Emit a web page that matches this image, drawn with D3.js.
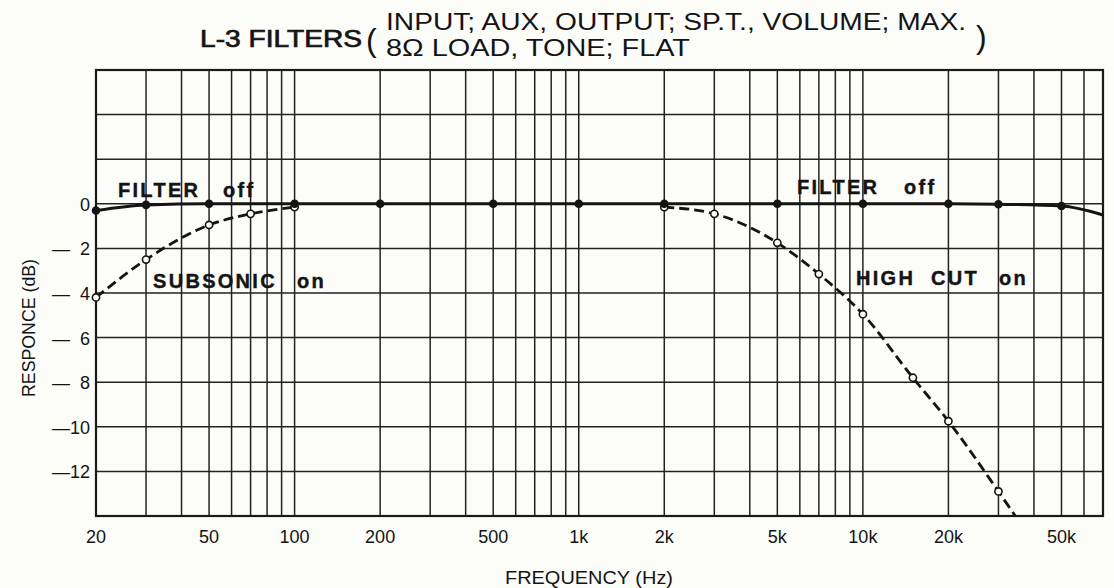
<!DOCTYPE html>
<html><head><meta charset="utf-8">
<script src="https://cdn.jsdelivr.net/npm/d3@7"></script>
<style>
html,body{margin:0;padding:0;background:#fcfcf9;}
svg{display:block;font-family:"Liberation Sans",Arial,Helvetica,sans-serif;}
</style>
</head><body>
<svg id="chart" width="1114" height="588"></svg>
<script>
// ---- data ----
const offFreq   = [20, 30, 50, 100, 200, 500, 1000, 2000, 5000, 10000, 20000, 30000, 50000, 70000];
const offDb     = [0.3, 0.05, 0, 0, 0, 0, 0, 0, 0, 0, 0, 0.02, 0.1, 0.5];
const offMarked = [1,1,1,1,1,1,1,1,1,1,1,1,1,0];

const subFreq   = [20, 30, 50, 70, 100];
const subDb     = [4.2, 2.5, 0.95, 0.45, 0.15];
const subMarked = [1,1,1,1,1];

const hcFreq    = [2000, 3000, 5000, 7000, 10000, 15000, 20000, 30000, 34400];
const hcDb      = [0.15, 0.45, 1.75, 3.15, 4.95, 7.8, 9.75, 12.9, 14.0];
const hcMarked  = [1,1,1,1,1,1,1,1,0];

const xTickVals   = [20, 50, 100, 200, 500, 1000, 2000, 5000, 10000, 20000, 50000];
const xTickLabels = ["20","50","100","200","500","1k","2k","5k","10k","20k","50k"];
const yTickVals   = [0, 2, 4, 6, 8, 10, 12];
const yTickLabels = ["0","—  2","—  4","—  6","—  8","—10","—12"];

const titleMain  = "L-3 FILTERS";
const titleLine1 = "INPUT; AUX, OUTPUT; SP.T., VOLUME; MAX.";
const titleLine2 = "8Ω LOAD, TONE; FLAT";

// ---- layout ----
const svg = d3.select("#chart");
const L = 96, R = 1103, T = 70, B = 516;
const x = d3.scaleLog().domain([20, 70000]).range([L, R]);
const y = d3.scaleLinear().domain([-6, 14]).range([T, B]);
const ink = "#141414";
const bg = "#fcfcf9";

// grid
const g = svg.append("g");
g.selectAll("line.v").data(x.ticks()).join("line")
  .attr("x1", d => x(d)).attr("x2", d => x(d))
  .attr("y1", T).attr("y2", B)
  .attr("stroke", "#222").attr("stroke-width", 1.5);
g.selectAll("line.h").data(d3.range(-6, 15, 2)).join("line")
  .attr("x1", L).attr("x2", R)
  .attr("y1", d => y(d)).attr("y2", d => y(d))
  .attr("stroke", "#222").attr("stroke-width", 1.5);
g.append("rect").attr("x", L).attr("y", T).attr("width", R - L).attr("height", B - T)
  .attr("fill", "none").attr("stroke", "#1a1a1a").attr("stroke-width", 2.2);

// tick labels
svg.append("g").selectAll("text").data(xTickVals).join("text")
  .attr("x", d => x(d)).attr("y", 543)
  .attr("text-anchor", "middle").attr("font-size", 18).attr("fill", ink)
  .text((d, i) => xTickLabels[i]);
svg.append("g").selectAll("text").data(yTickVals).join("text")
  .attr("x", 90).attr("y", d => y(d) + 7)
  .attr("text-anchor", "end").attr("font-size", 18).attr("fill", ink)
  .style("white-space", "pre")
  .text((d, i) => yTickLabels[i]);

// axis titles
svg.append("text").attr("transform", "translate(35,328) rotate(-90)")
  .attr("text-anchor", "middle").attr("font-size", 18).attr("fill", ink)
  .attr("textLength", 138).attr("lengthAdjust", "spacingAndGlyphs")
  .text("RESPONCE (dB)");
svg.append("text").attr("x", 589).attr("y", 584)
  .attr("text-anchor", "middle").attr("font-size", 18).attr("fill", ink)
  .attr("textLength", 168).attr("lengthAdjust", "spacingAndGlyphs")
  .text("FREQUENCY (Hz)");

// title
svg.append("text").attr("x", 200).attr("y", 47).attr("font-size", 23)
  .attr("fill", ink).attr("stroke", ink).attr("stroke-width", 0.7)
  .attr("textLength", 162).attr("lengthAdjust", "spacingAndGlyphs").text(titleMain);
svg.append("text").attr("x", 366).attr("y", 51).attr("font-size", 32).attr("fill", ink).text("(");
svg.append("text").attr("x", 386).attr("y", 30).attr("font-size", 24).attr("fill", ink)
  .attr("textLength", 580).attr("lengthAdjust", "spacingAndGlyphs").text(titleLine1);
svg.append("text").attr("x", 386).attr("y", 56).attr("font-size", 24).attr("fill", ink)
  .attr("textLength", 304).attr("lengthAdjust", "spacingAndGlyphs").text(titleLine2);
svg.append("text").attr("x", 976).attr("y", 48).attr("font-size", 32).attr("fill", ink).text(")");

// series
svg.append("clipPath").attr("id", "plotclip").append("rect")
  .attr("x", L).attr("y", T - 10).attr("width", R - L + 4).attr("height", B - T + 10);

function series(freqs, dbs, marked, dashed, filled) {
  const pts = freqs.map((f, i) => ({f, v: dbs[i], m: marked[i]}));
  const line = d3.line().x(d => x(d.f)).y(d => y(d.v)).curve(d3.curveMonotoneX);
  const grp = svg.append("g").attr("clip-path", "url(#plotclip)");
  grp.append("path").attr("d", line(pts)).attr("fill", "none")
    .attr("stroke", ink).attr("stroke-width", dashed ? 2.8 : 3)
    .attr("stroke-dasharray", dashed ? "10,5" : null);
  svg.append("g").selectAll("circle").data(pts.filter(d => d.m)).join("circle")
    .attr("cx", d => x(d.f)).attr("cy", d => y(d.v)).attr("r", filled ? 3.5 : 3.6)
    .attr("fill", filled ? ink : bg).attr("stroke", ink).attr("stroke-width", 1.6);
}
series(subFreq, subDb, subMarked, true, false);
series(hcFreq, hcDb, hcMarked, true, false);
series(offFreq, offDb, offMarked, false, true);

// in-chart labels
const labels = [
  {t: "FILTER", x: 118, y: 197}, {t: "off", x: 223, y: 197},
  {t: "SUBSONIC", x: 153, y: 288}, {t: "on", x: 297, y: 288},
  {t: "FILTER", x: 797, y: 194}, {t: "off", x: 904, y: 194},
  {t: "HIGH", x: 856, y: 285}, {t: "CUT", x: 931, y: 285}, {t: "on", x: 999, y: 285}
];
svg.append("g").selectAll("text").data(labels).join("text")
  .attr("x", d => d.x).attr("y", d => d.y)
  .attr("font-size", 20).attr("font-weight", "bold").attr("letter-spacing", 2.3)
  .attr("fill", ink).attr("stroke", ink).attr("stroke-width", 0.4)
  .text(d => d.t);
</script>
</body></html>
